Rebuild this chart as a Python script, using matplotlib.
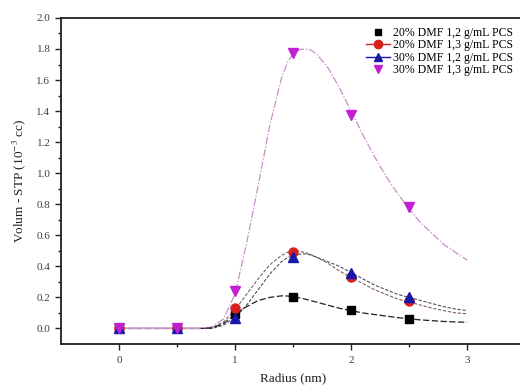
import matplotlib
matplotlib.use("Agg")
import matplotlib.pyplot as plt
from matplotlib.lines import Line2D

plt.rcParams['font.family'] = ['Liberation Serif', 'DejaVu Serif']
plt.rcParams['mathtext.fontset'] = 'stix'

# measured points
radius = [0.0, 0.5, 1.0, 1.5, 2.0, 2.5]
s20_12 = [0.0, 0.0, 0.09, 0.20, 0.116, 0.064]
s20_13 = [0.0, 0.0, 0.13, 0.495, 0.33, 0.18]
s30_12 = [0.0, 0.0, 0.07, 0.46, 0.36, 0.205]
s30_13 = [0.0, 0.0, 0.24, 1.775, 1.376, 0.78]

labels = ["20% DMF 1,2 g/mL PCS", "20% DMF 1,3 g/mL PCS",
          "30% DMF 1,2 g/mL PCS", "30% DMF 1,3 g/mL PCS"]

# fitted curves
fit_x = [0.0, 0.5, 0.7, 0.8, 0.9, 1.0, 1.1, 1.2, 1.3, 1.4, 1.45, 1.5, 1.55, 1.6, 1.65,
         1.7, 1.8, 1.9, 2.0, 2.1, 2.2, 2.3, 2.4, 2.5, 2.6, 2.7, 2.8, 2.9, 3.0]
fit_20_12 = [0.0, 0.0, 0.0, 0.003, 0.03, 0.09, 0.14, 0.18, 0.20, 0.21, 0.209, 0.205,
             0.198, 0.19, 0.18, 0.17, 0.15, 0.13, 0.115, 0.10, 0.09, 0.08, 0.07,
             0.062, 0.055, 0.05, 0.045, 0.042, 0.04]
fit_20_13 = [0.0, 0.0, 0.0, 0.005, 0.04, 0.12, 0.22, 0.32, 0.41, 0.47, 0.49, 0.50,
             0.498, 0.49, 0.478, 0.46, 0.42, 0.37, 0.33, 0.29, 0.25, 0.22, 0.19,
             0.17, 0.15, 0.13, 0.115, 0.10, 0.095]
fit_30_12 = [0.0, 0.0, 0.0, 0.0, 0.02, 0.07, 0.15, 0.25, 0.35, 0.43, 0.455, 0.47,
             0.478, 0.48, 0.474, 0.46, 0.43, 0.40, 0.36, 0.32, 0.28, 0.25, 0.22,
             0.20, 0.18, 0.16, 0.14, 0.125, 0.115]
fit_30_13 = [0.0, 0.0, 0.0, 0.01, 0.06, 0.22, 0.55, 0.92, 1.31, 1.61, 1.71, 1.77,
             1.795, 1.80, 1.795, 1.77, 1.68, 1.55, 1.40, 1.25, 1.11, 0.98, 0.87,
             0.77, 0.68, 0.61, 0.54, 0.49, 0.44]

c_black = '#000000'
c_red = '#d82020'
c_blue = '#1818a8'
c_mag = '#c020d0'

fig = plt.figure(figsize=(5.2, 3.9), dpi=100)
ax = fig.add_axes([0.117, 0.118, 0.893, 0.836])

ax.plot(fit_x, fit_30_13, color='#c890c8', lw=0.9, ls=(0, (6, 1.5, 1, 1.5)), zorder=2)
ax.plot(fit_x, fit_20_13, color='#806060', lw=0.8, ls=(0, (3, 1.5)), zorder=2)
ax.plot(fit_x, fit_30_12, color='#505060', lw=0.8, ls=(0, (3, 1.5)), zorder=2)
ax.plot(fit_x, fit_20_12, color='#202020', lw=0.9, ls=(0, (5, 2)), zorder=2)
ax.plot(fit_x[:3], fit_30_13[:3], color='#d8a8d8', lw=1.2, zorder=2)

ms = 6
ax.plot(radius, s20_12, ls='none', marker='s', color=c_black, ms=ms, zorder=3)
ax.plot(radius, s20_13, ls='none', marker='o', color=c_red, ms=ms + 0.5, zorder=3)
ax.plot(radius, s30_12, ls='none', marker='^', color=c_blue, ms=ms + 0.5, zorder=3)
ax.plot(radius, s30_13, ls='none', marker='v', color=c_mag, ms=ms + 0.5, zorder=4)

handles = [
    Line2D([], [], ls='none', marker='s', color=c_black, ms=5),
    Line2D([], [], ls='-', lw=1, marker='o', color=c_red, ms=6),
    Line2D([], [], ls='-', lw=1, marker='^', color=c_blue, ms=6),
    Line2D([], [], ls='none', marker='v', color=c_mag, ms=6),
]
leg = ax.legend(handles, labels, loc='upper right', bbox_to_anchor=(0.99, 0.995),
                frameon=False, fontsize=8.5, handlelength=2.0, handletextpad=0.3,
                labelspacing=0.05, borderaxespad=0.2)

ax.set_xlim(-0.5, 3.5)
ax.set_ylim(-0.1, 2.0)
ax.set_xticks([0, 1, 2, 3])
ax.set_xticks([0.5, 1.5, 2.5], minor=True)
ax.set_yticks([0.0, 0.2, 0.4, 0.6, 0.8, 1.0, 1.2, 1.4, 1.6, 1.8, 2.0])
ax.set_yticks([0.1, 0.3, 0.5, 0.7, 0.9, 1.1, 1.3, 1.5, 1.7, 1.9], minor=True)
ax.set_yticklabels(['0.0', '0.2', '0.4', '0.6', '0.8', '1.0', '1.2', '1.4', '1.6', '1.8', '2.0'])
ax.tick_params(which='major', direction='out', length=4, width=1, labelsize=8,
               labelcolor='#404040', color='#202020')
ax.tick_params(which='minor', direction='out', length=2.5, width=1, color='#202020')
ax.tick_params(axis='x', pad=5)

for s in ['left', 'bottom', 'top']:
    ax.spines[s].set_linewidth(1.3)
    ax.spines[s].set_color('#202020')
ax.spines['right'].set_visible(False)

ax.set_xlabel('Radius (nm)', fontsize=9.5, labelpad=5, color='#202020')
ax.set_ylabel('Volum - STP (10$^{-3}$ cc)', fontsize=9.5, labelpad=6, color='#202020')

fig.savefig('out.png', dpi=100)
